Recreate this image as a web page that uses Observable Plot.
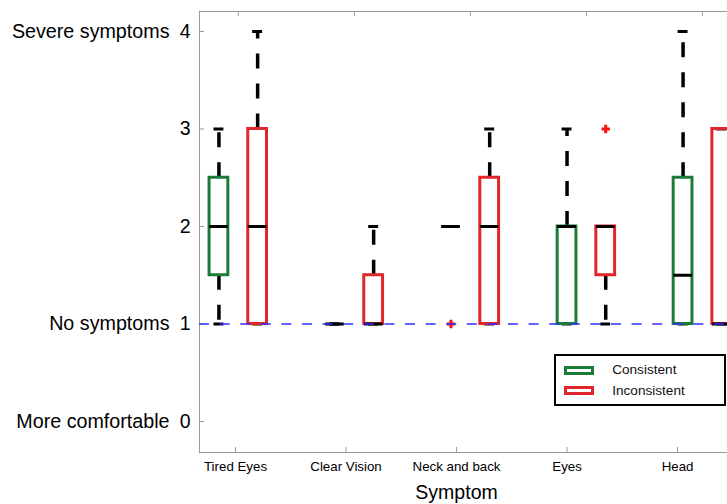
<!DOCTYPE html>
<html>
<head>
<meta charset="utf-8">
<script src="https://cdn.jsdelivr.net/npm/d3@7"></script>
<script src="https://cdn.jsdelivr.net/npm/@observablehq/plot@0.6"></script>
<style>
  html, body { margin: 0; padding: 0; background: #fff; overflow: hidden; }
  body { font-family: "Liberation Sans", Arial, Helvetica, sans-serif; }
  #wrap { position: relative; width: 727px; height: 504px; overflow: hidden; }
  .legend {
    position: absolute; left: 554px; top: 354px; width: 171.5px; height: 51.5px;
    box-sizing: border-box; border: 2.5px solid #000; background: #fff;
  }
  .legend .sw { position: absolute; left: 7.8px; width: 30.7px; height: 9.3px; box-sizing: border-box; border: 3px solid; }
  .legend .lb { position: absolute; left: 56.2px; font-size: 13.6px; line-height: 16px; color: #111; white-space: nowrap; }
</style>
</head>
<body>
<div id="wrap"></div>
<script>
// Symptom categories along the x axis
const categories = ["Tired Eyes", "Clear Vision", "Neck and back", "Eyes", "Head"];
const categoryTicks = [1, 2, 3, 4, 5];

// Groups compared in each category
const groups = ["Consistent", "Inconsistent"];
const groupColors = ["#1b7c38", "#e1262b"];

// Box positions for each group
const consistentPos = [0.85, 1.9, 2.95, 4.0, 5.05];
const inconsistentPos = [1.2, 2.25, 3.3, 4.35, 5.4];

// Five-number summaries: Consistent
const consistentMin = [1, 1, 2, 1, 1];
const consistentQ1 = [1.5, 1, 2, 1, 1];
const consistentMedian = [2, 1, 2, 2, 1.5];
const consistentQ3 = [2.5, 1, 2, 2, 2.5];
const consistentMax = [3, 1, 2, 3, 4];

// Five-number summaries: Inconsistent
const inconsistentMin = [1, 1, 1, 1, 1];
const inconsistentQ1 = [1, 1, 1, 1.5, 1];
const inconsistentMedian = [2, 1, 2, 2, 1];
const inconsistentQ3 = [3, 1.5, 2.5, 2, 3];
const inconsistentMax = [4, 2, 3, 2, 3];

// Outliers (category index, value)
const consistentOutliers = [[2, 1]];
const inconsistentOutliers = [[3, 3]];

// Rating scale
const yTicks = [0, 1, 2, 3, 4];
const levelValues = [4, 1, 0];
const levelNames = ["Severe symptoms", "No symptoms", "More comfortable"];
const baseline = [1];

// Build one row per box
const rows = [];
const addGroup = (group, pos, mn, q1, med, q3, mx) =>
  categories.forEach((c, i) => rows.push({group, category: c, pos: pos[i], min: mn[i], q1: q1[i], med: med[i], q3: q3[i], max: mx[i]}));
addGroup("Consistent", consistentPos, consistentMin, consistentQ1, consistentMedian, consistentQ3, consistentMax);
addGroup("Inconsistent", inconsistentPos, inconsistentMin, inconsistentQ1, inconsistentMedian, inconsistentQ3, inconsistentMax);

const outliers = [
  ...consistentOutliers.map(([i, v]) => ({group: "Consistent", pos: consistentPos[i], value: v})),
  ...inconsistentOutliers.map(([i, v]) => ({group: "Inconsistent", pos: inconsistentPos[i], value: v}))
];

// Top-edge ticks sit midway between each pair of boxes
const pairCenters = consistentPos.map((p, i) => (p + inconsistentPos[i]) / 2);

const boxHalf = 0.085;
const capHalf = 0.045;
const W = 727, H = 504, mL = 199, mT = 11, mB = 52, mR = 0;
const frameW = W - mL - mR, frameH = H - mT - mB;
const grey = "#9a9a9a";

const chart = Plot.plot({
  width: W,
  height: H,
  marginLeft: mL,
  marginRight: mR,
  marginTop: mT,
  marginBottom: mB,
  style: {fontFamily: "'Liberation Sans', Arial, Helvetica, sans-serif", background: "#fff", color: "#000"},
  x: {domain: [0.674, 5.452], axis: null},
  y: {domain: [-0.318, 4.205], axis: null},
  color: {domain: groups, range: groupColors},
  marks: [
    // frame edges
    Plot.frame({anchor: "left", stroke: grey}),
    Plot.frame({anchor: "top", stroke: grey}),
    Plot.frame({anchor: "bottom", stroke: grey}),
    // inward ticks
    Plot.ruleX(categoryTicks, {x: d => d, insetTop: frameH - 5, stroke: grey}),
    Plot.ruleX(pairCenters, {x: d => d, insetBottom: frameH - 5, stroke: grey}),
    Plot.ruleY(yTicks, {y: d => d, insetRight: frameW - 5, stroke: grey}),
    // whiskers, dashed from the box edge outward
    Plot.ruleX(rows.filter(d => d.max > d.q3), {x: "pos", y1: "q3", y2: "max", stroke: "#000", strokeWidth: 3.5, strokeDasharray: "15,15"}),
    Plot.ruleX(rows.filter(d => d.min < d.q1), {x: "pos", y1: "q1", y2: "min", stroke: "#000", strokeWidth: 3.5, strokeDasharray: "15,15"}),
    // whisker caps
    Plot.ruleY(rows, {y: "max", x1: d => d.pos - capHalf, x2: d => d.pos + capHalf, stroke: "#000", strokeWidth: 3}),
    Plot.ruleY(rows, {y: "min", x1: d => d.pos - capHalf, x2: d => d.pos + capHalf, stroke: "#000", strokeWidth: 3}),
    // boxes
    Plot.rect(rows.filter(d => d.q3 > d.q1), {x1: d => d.pos - boxHalf, x2: d => d.pos + boxHalf, y1: "q1", y2: "q3", stroke: "group", fill: "none", strokeWidth: 3}),
    // medians
    Plot.ruleY(rows, {y: "med", x1: d => d.pos - boxHalf, x2: d => d.pos + boxHalf, stroke: "#000", strokeWidth: 3}),
    // outliers
    Plot.dot(outliers, {x: "pos", y: "value", symbol: "plus", r: 2.8, stroke: "#ff1010", strokeWidth: 3}),
    // "No symptoms" reference line
    Plot.ruleY(baseline, {y: d => d, stroke: "#2f2fff", strokeOpacity: 0.75, strokeWidth: 2.2, strokeDasharray: "10,10.6"}),
    // y tick labels and level names
    Plot.text(yTicks, {y: d => d, text: d => String(d), frameAnchor: "left", dx: -9, textAnchor: "end", fontSize: 19.5}),
    Plot.text(levelValues, {y: d => d, text: (d, i) => levelNames[i], frameAnchor: "left", dx: -30, textAnchor: "end", fontSize: 19.7}),
    // x tick labels and axis title
    Plot.text(categories, {x: (d, i) => categoryTicks[i], text: d => d, frameAnchor: "bottom", dy: 18.5, fontSize: 13.3}),
    Plot.text(["Symptom"], {x: () => d3.median(categoryTicks), text: d => d, frameAnchor: "bottom", dy: 46, fontSize: 19.5})
  ]
});

const wrap = document.getElementById("wrap");
wrap.appendChild(chart);

// Legend box
const legend = document.createElement("div");
legend.className = "legend";
groups.forEach((g, i) => {
  const sw = document.createElement("div");
  sw.className = "sw";
  sw.style.top = (10.2 + i * 20) + "px";
  sw.style.borderColor = groupColors[i];
  legend.appendChild(sw);
  const lb = document.createElement("div");
  lb.className = "lb";
  lb.style.top = (6.2 + i * 20.3) + "px";
  lb.textContent = g;
  legend.appendChild(lb);
});
wrap.appendChild(legend);
</script>
</body>
</html>
